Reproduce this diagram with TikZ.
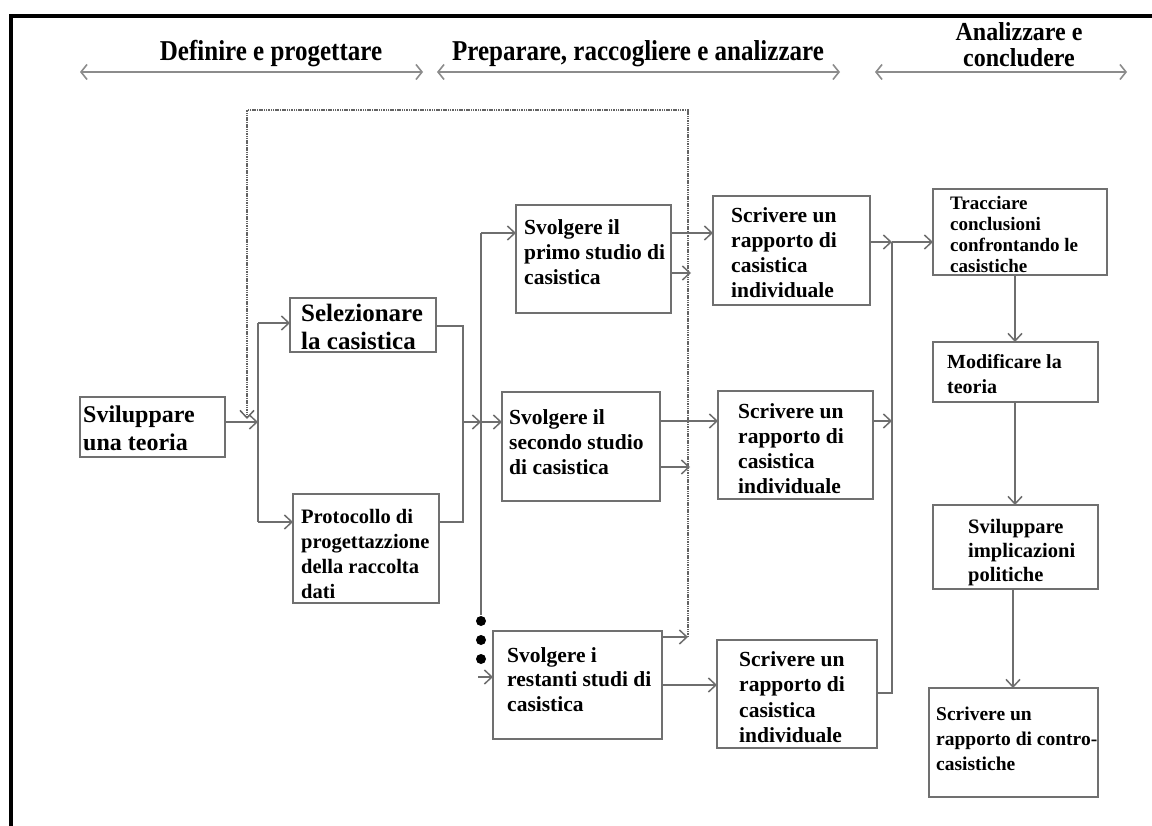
\documentclass[tikz,border=0pt]{standalone}
\usepackage{fontspec}
\setmainfont{Liberation Serif}
\usetikzlibrary{arrows.meta}
\definecolor{boxc}{HTML}{707070}
\definecolor{arrc}{HTML}{6E6E6E}
\definecolor{hdrc}{HTML}{8C8C8C}
\newcommand\fsz[2]{\fontsize{#1pt}{#2pt}\selectfont}
\newcommand\tallhdr[1]{\scalebox{1}[1.15]{#1}}
\newcommand\tallhdrb[1]{\scalebox{1}[1.08]{#1}}
\begin{document}
\begin{tikzpicture}[x=1pt,y=-1pt,
  box/.style={draw=boxc, line width=1.8pt, inner sep=0pt, outer sep=0pt, anchor=north west},
  txt/.style={anchor=north west, inner sep=0pt, align=left},
  opentip/.style={-{Straight Barb[length=7.5pt,width=14pt,line width=1.5pt]}},
  arr/.style={draw=arrc, line width=1.6pt, opentip},
  ln/.style={draw=arrc, line width=1.6pt},
  dotarr/.style={draw=arrc!90!black, line width=1.5pt, dash pattern=on 1.5pt off 0.8pt, opentip},
  harr/.style={draw=hdrc, line width=2.6pt, {Straight Barb[length=6pt,width=15pt,line width=1.6pt]}-{Straight Barb[length=6pt,width=15pt,line width=1.6pt]}},
  hdr/.style={font=\bfseries\fsz{25}{27}, inner sep=0pt, anchor=base},
  hdrb/.style={font=\bfseries\fsz{24}{26}, inner sep=0pt, anchor=base},
  dotn/.style={circle, fill=black, inner sep=0pt, minimum size=10pt}]
\useasboundingbox (0,0) rectangle (1152,826);
\fill[white] (0,0) rectangle (1152,826);
% frame
\draw[line width=4pt, black, line join=miter] (11,826) -- (11,16) -- (1152,16);

% header
\node[hdr] (h1) at (271,61) {\tallhdr{Definire e progettare}};
\node[hdr] (h2) at (638,61) {\tallhdr{Preparare, raccogliere e analizzare}};
\node[hdrb] (h3a) at (1019,41) {\tallhdrb{Analizzare e}};
\node[hdrb] (h3b) at (1019,67) {\tallhdrb{concludere}};
\coordinate (a1l) at (80,72); \coordinate (a1r) at (423,72);
\coordinate (a2l) at (437,72); \coordinate (a2r) at (840,72);
\coordinate (a3l) at (875,72); \coordinate (a3r) at (1127,72);
\draw[harr] (a1l) -- (a1r);
\draw[harr] (a2l) -- (a2r);
\draw[harr] (a3l) -- (a3r);

% boxes
\node[box, minimum width=145pt, minimum height=60pt] (sv) at (80,397) {};
\node[box, minimum width=146pt, minimum height=54pt] (sel) at (290,298) {};
\node[box, minimum width=146pt, minimum height=109pt] (prot) at (293,494) {};
\node[box, minimum width=155pt, minimum height=108pt] (svp) at (516,205) {};
\node[box, minimum width=158pt, minimum height=109pt] (svs) at (502,392) {};
\node[box, minimum width=169pt, minimum height=108pt] (res) at (493,631) {};
\node[box, minimum width=157pt, minimum height=109pt] (sc1) at (713,196) {};
\node[box, minimum width=155pt, minimum height=108pt] (sc2) at (718,391) {};
\node[box, minimum width=160pt, minimum height=108pt] (sc3) at (717,640) {};
\node[box, minimum width=174pt, minimum height=86pt] (trc) at (933,189) {};
\node[box, minimum width=165pt, minimum height=60pt] (mod) at (933,342) {};
\node[box, minimum width=165pt, minimum height=84pt] (imp) at (933,505) {};
\node[box, minimum width=169pt, minimum height=109pt] (con) at (929,688) {};

% texts
\node[txt, font=\bfseries\fsz{24}{28}] (sv-t) at (83,406) {Sviluppare\\una teoria};
\node[txt, font=\bfseries\fsz{25}{28}] (sel-t) at (301,304) {Selezionare\\la casistica};
\node[txt, font=\bfseries\fsz{20.5}{25}] (prot-t) at (301,509) {Protocollo di\\progettazzione\\della raccolta\\dati};
\node[txt, font=\bfseries\fsz{21.5}{25}] (svp-t) at (524,219) {Svolgere il\\primo studio di\\casistica};
\node[txt, font=\bfseries\fsz{21.5}{25}] (svs-t) at (509,409) {Svolgere il\\secondo studio\\di casistica};
\node[txt, font=\bfseries\fsz{21.5}{24.5}] (res-t) at (507,647) {Svolgere i\\restanti studi di\\casistica};
\node[txt, font=\bfseries\fsz{21.5}{25}] (sc1-t) at (731,207) {Scrivere un\\rapporto di\\casistica\\individuale};
\node[txt, font=\bfseries\fsz{21.5}{25}] (sc2-t) at (738,403) {Scrivere un\\rapporto di\\casistica\\individuale};
\node[txt, font=\bfseries\fsz{21.5}{25.5}] (sc3-t) at (739,651) {Scrivere un\\rapporto di\\casistica\\individuale};
\node[txt, font=\bfseries\fsz{19}{21}] (trc-t) at (950,196) {Tracciare\\conclusioni\\confrontando le\\casistiche};
\node[txt, font=\bfseries\fsz{20}{25}] (mod-t) at (947,354) {Modificare la\\teoria};
\node[txt, font=\bfseries\fsz{20.5}{24}] (imp-t) at (968,519) {Sviluppare\\implicazioni\\politiche};
\node[txt, font=\bfseries\fsz{19.5}{25}] (con-t) at (936,707) {Scrivere un\\rapporto di contro-\\casistiche};

% junction coordinates
\coordinate (j1) at (258,422);
\coordinate (j2) at (463,422);
\coordinate (j3) at (481,422);
\coordinate (t2top) at (481,233);
\coordinate (t2bot) at (481,615);
\coordinate (dR) at (688,637);
\coordinate (dTR) at (688,110);
\coordinate (dTL) at (247,110);
\coordinate (dEnd) at (247,419);
\coordinate (cTop) at (892,242);
\coordinate (cBot) at (892,693);

% dots
\node[dotn] (dot1) at (481,621) {};
\node[dotn] (dot2) at (481,640) {};
\node[dotn] (dot3) at (481,659) {};

% dotted feedback loop
\draw[dotarr] (dR) -- (dTR) -- (dTL) -- (dEnd);

% left part
\draw[arr] (sv.east |- j1) -- (j1);
\draw[ln] (j1 |- 0,323) -- (j1 |- 0,522);
\draw[arr] (j1 |- 0,323) -- (sel.west |- 0,323);
\draw[arr] (j1 |- 0,522) -- (prot.west |- 0,522);
\draw[ln] (sel.east |- 0,326) -- (463,326) -- (463,522) -- (prot.east |- 0,522);
\draw[arr] (j2) -- (j3);
\draw[ln] (t2top) -- (t2bot);
\draw[arr] (t2top) -- (svp.west |- t2top);
\draw[arr] (j3) -- (svs.west |- j3);
\draw[arr] (478,677) -- (res.west |- 0,677);

% middle
\draw[arr] (svp.east |- 0,233) -- (sc1.west |- 0,233);
\draw[arr] (svp.east |- 0,273) -- (691,273);
\draw[arr] (svs.east |- 0,421) -- (sc2.west |- 0,421);
\draw[arr] (svs.east |- 0,467) -- (690,467);
\draw[arr] (res.east |- dR) -- (dR);
\draw[arr] (res.east |- 0,685) -- (sc3.west |- 0,685);

% collector
\draw[arr] (sc1.east |- cTop) -- (cTop);
\draw[arr] (sc2.east |- 0,421) -- (892,421);
\draw[ln] (sc3.east |- cBot) -- (cBot) -- (cTop);
\draw[arr] (cTop) -- (trc.west |- cTop);

% right column
\draw[arr] (trc.south -| 1015,0) -- (mod.north -| 1015,0);
\draw[arr] (mod.south -| 1015,0) -- (imp.north -| 1015,0);
\draw[arr] (imp.south -| 1013,0) -- (con.north -| 1013,0);
\end{tikzpicture}
\end{document}
